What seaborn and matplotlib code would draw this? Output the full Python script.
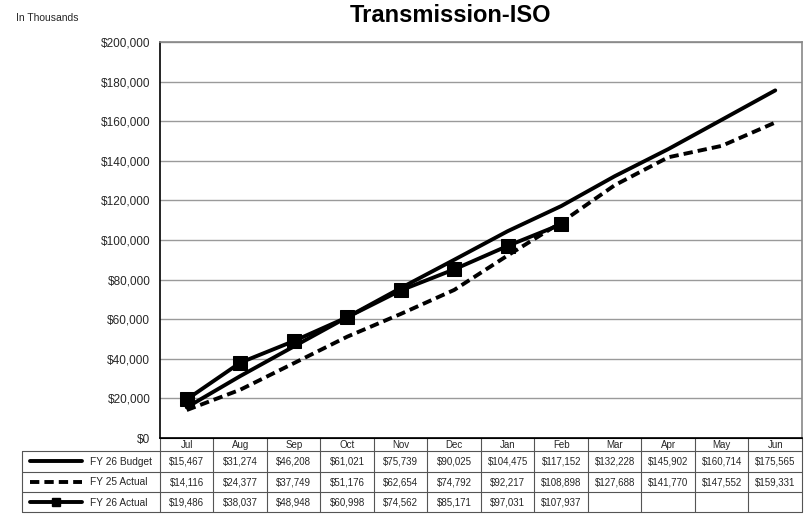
import matplotlib
matplotlib.use("Agg")
import matplotlib.pyplot as plt
import seaborn as sns
import pandas as pd
import numpy as np

months = ["Jul", "Aug", "Sep", "Oct", "Nov", "Dec", "Jan", "Feb", "Mar", "Apr", "May", "Jun"]
fy26_budget = [15467, 31274, 46208, 61021, 75739, 90025, 104475, 117152, 132228, 145902, 160714, 175565]
fy25_actual = [14116, 24377, 37749, 51176, 62654, 74792, 92217, 108898, 127688, 141770, 147552, 159331]
fy26_actual = [19486, 38037, 48948, 60998, 74562, 85171, 97031, 107937]
series_names = ["FY 26 Budget", "FY 25 Actual", "FY 26 Actual"]
yticks = list(range(0, 200001, 20000))

sns.set_style("white")
plt.rcParams["font.family"] = ["Liberation Sans", "DejaVu Sans"]

W, H = 808, 517
fig = plt.figure(figsize=(W / 100, H / 100), dpi=100)
L, R, T, B = 160, 802, 42, 438
ax = fig.add_axes([L / W, 1 - B / H, (R - L) / W, (B - T) / H])

idx = np.arange(len(months))
df_b = pd.DataFrame({"x": idx, "y": fy26_budget})
df_p = pd.DataFrame({"x": idx, "y": fy25_actual})
df_a = pd.DataFrame({"x": idx[:len(fy26_actual)], "y": fy26_actual})

DASH = (0, (2.4, 1.3))
sns.lineplot(data=df_b, x="x", y="y", ax=ax, color="black", lw=2.8, solid_capstyle="round")
sns.lineplot(data=df_p, x="x", y="y", ax=ax, color="black", lw=2.8, linestyle=DASH)
sns.lineplot(data=df_a, x="x", y="y", ax=ax, color="black", lw=2.8, marker="s",
             markersize=10, markeredgecolor="black", markerfacecolor="black")

ax.set_xlim(-0.5, len(months) - 0.5)
ax.set_ylim(0, 200000)
ax.set_yticks(yticks)
ax.set_yticklabels([f"${v:,.0f}" for v in yticks], fontsize=8.5)
ax.set_xticks([])
ax.set_xlabel("")
ax.set_ylabel("")
ax.grid(axis="y", color="#9a9a9a", lw=1.0)
ax.set_axisbelow(True)
ax.tick_params(axis="y", length=4, width=0.8, color="#555555", pad=3)
for s in ["top", "right"]:
    ax.spines[s].set_color("#888888")
    ax.spines[s].set_linewidth(1.2)
for s in ["left", "bottom"]:
    ax.spines[s].set_color("black")
    ax.spines[s].set_linewidth(1.2)

fig.text(450 / W, 1 - 16 / H, "Transmission-ISO", ha="center", va="center",
         fontsize=17, fontweight="bold", color="black")
fig.text(16 / W, 1 - 18 / H, "In Thousands", ha="left", va="center", fontsize=7.5)

# table
TL, TB = 22, 512
tax = fig.add_axes([TL / W, 1 - TB / H, (R - TL) / W, (TB - B) / H])
colw = (R - L) / len(months)
lab_w = (L - TL) / colw
tax.set_xlim(-0.5 - lab_w, len(months) - 0.5)
tax.set_ylim(TB - B, 0)
tax.axis("off")

row_edges = [0, 13, 33.5, 54, 74]
gc = "#555555"
for i in range(len(months) + 1):
    tax.plot([i - 0.5, i - 0.5], [0, 74], color=gc, lw=0.8, clip_on=False)
tax.plot([-0.5 - lab_w, -0.5 - lab_w], [13, 74], color=gc, lw=0.8, clip_on=False)
for j, yv in enumerate(row_edges):
    x0 = -0.5 if j == 0 else -0.5 - lab_w
    tax.plot([x0, len(months) - 0.5], [yv, yv], color=gc if j else "black",
             lw=0.8, clip_on=False)

for i, m in enumerate(months):
    tax.text(i, 7.0, m, ha="center", va="center", fontsize=7)

rows = [fy26_budget, fy25_actual, fy26_actual]
for r, vals in enumerate(rows):
    yc = (row_edges[r + 1] + row_edges[r + 2]) / 2
    for i, v in enumerate(vals):
        tax.text(i, yc + 0.5, f"${v:,.0f}", ha="center", va="center", fontsize=7)
    tax.text(-0.5 - lab_w + 68 / colw, yc + 0.5, series_names[r], ha="left", va="center",
             fontsize=7.3)
    xs = [-0.5 - lab_w + 8 / colw, -0.5 - lab_w + 60 / colw]
    if r == 0:
        tax.plot(xs, [yc, yc], color="black", lw=2.8, solid_capstyle="round", clip_on=False)
    elif r == 1:
        tax.plot(xs, [yc, yc], color="black", lw=2.8, linestyle=DASH, clip_on=False)
    else:
        tax.plot(xs, [yc, yc], color="black", lw=2.8, clip_on=False)
        tax.plot([np.mean(xs)], [yc], marker="s", markersize=6, color="black", clip_on=False)

fig.savefig("out.png", dpi=100)
